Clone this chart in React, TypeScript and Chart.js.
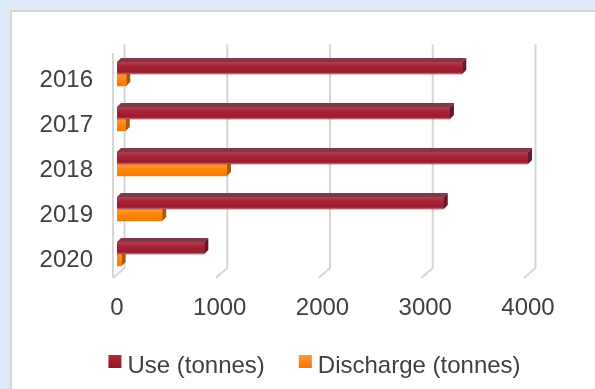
import { useEffect, useRef } from "react";
import { Chart, registerables } from "chart.js";

Chart.register(...registerables);

const categories = ["2016", "2017", "2018", "2019", "2020"];
const useTonnes = [3360, 3240, 4000, 3180, 850];
const dischargeTonnes = [90, 85, 1070, 440, 45];
const xTickValues = [0, 1000, 2000, 3000, 4000];
const seriesLabels = ["Use (tonnes)", "Discharge (tonnes)"];

const FONT_FAMILY = "'Liberation Sans', Arial, sans-serif";
const TEXT_COLOR = "#404040";
const DEPTH = 4;

const faceStyles = [
  {
    top: "#7f3a48",
    side: "#66182a",
    stops: [
      [0, "#b3404f"],
      [0.35, "#a82438"],
      [0.85, "#9b1a2d"],
      [1, "#c4707c"],
    ],
    legend: ["#b02a3d", "#8f1727"],
  },
  {
    top: "#e07a10",
    side: "#b05800",
    stops: [
      [0, "#ff9d3a"],
      [0.4, "#ff8710"],
      [1, "#f47a00"],
    ],
    legend: ["#ff9a35", "#f07400"],
  },
];

const gridPlugin = {
  id: "grid3d",
  beforeDatasetsDraw(chart: any) {
    const { ctx, chartArea } = chart;
    const xs = chart.scales.x;
    const { top, bottom, left } = chartArea;
    ctx.save();
    ctx.strokeStyle = "#d6d6d6";
    ctx.lineWidth = 2;
    xs.ticks.forEach((t: any) => {
      const px = xs.getPixelForValue(t.value);
      ctx.beginPath();
      ctx.moveTo(px + 7.5, top - 7);
      ctx.lineTo(px + 7.5, bottom - 8.5);
      ctx.lineTo(px - 4, bottom + 1.5);
      ctx.stroke();
    });
    ctx.beginPath();
    ctx.moveTo(left - 4, top + 1.5);
    ctx.lineTo(left - 4, bottom + 1.5);
    ctx.stroke();
    ctx.restore();
  },
};

const bar3dPlugin = {
  id: "bar3d",
  afterDatasetDraw(chart: any, args: any) {
    const ctx = chart.ctx;
    const style = faceStyles[args.index];
    if (!style) return;
    ctx.save();
    args.meta.data.forEach((el: any) => {
      const { x, y, base, height } = el.getProps(["x", "y", "base", "height"], true);
      const x0 = Math.min(base, x);
      const x1 = Math.max(base, x);
      const yT = y - height / 2;
      const yB = y + height / 2;
      const D = DEPTH;
      ctx.fillStyle = style.top;
      ctx.beginPath();
      ctx.moveTo(x0, yT);
      ctx.lineTo(x0 + D, yT - D);
      ctx.lineTo(x1 + D, yT - D);
      ctx.lineTo(x1, yT);
      ctx.closePath();
      ctx.fill();
      ctx.fillStyle = style.side;
      ctx.beginPath();
      ctx.moveTo(x1, yT);
      ctx.lineTo(x1 + D, yT - D);
      ctx.lineTo(x1 + D, yB - D);
      ctx.lineTo(x1, yB);
      ctx.closePath();
      ctx.fill();
      const g = ctx.createLinearGradient(0, yT, 0, yB);
      style.stops.forEach(([o, c]: any) => g.addColorStop(o, c));
      ctx.fillStyle = g;
      ctx.fillRect(x0, yT, x1 - x0, yB - yT);
    });
    ctx.restore();
  },
};

const legendPlugin = {
  id: "customLegend",
  afterDraw(chart: any) {
    const ctx = chart.ctx;
    ctx.save();
    ctx.font = `24px ${FONT_FAMILY}`;
    const box = 13;
    const gap = 6;
    const spacing = 34;
    const widths = chart.data.datasets.map((d: any) => ctx.measureText(d.label).width);
    const total =
      widths.reduce((a: number, w: number) => a + box + gap + w, 0) + spacing * (widths.length - 1);
    let x = 314.5 - total / 2;
    const baseline = 373;
    chart.data.datasets.forEach((d: any, i: number) => {
      const st = faceStyles[i];
      const g = ctx.createLinearGradient(0, 355, 0, 368);
      g.addColorStop(0, st.legend[0]);
      g.addColorStop(1, st.legend[1]);
      ctx.fillStyle = g;
      ctx.fillRect(x, 355, box, box);
      ctx.fillStyle = TEXT_COLOR;
      ctx.textBaseline = "alphabetic";
      ctx.textAlign = "left";
      ctx.fillText(d.label, x + box + gap, baseline);
      x += box + gap + widths[i] + spacing;
    });
    ctx.restore();
  },
};

export default function App() {
  const canvasRef = useRef<HTMLCanvasElement | null>(null);

  useEffect(() => {
    if (!canvasRef.current) return;
    const chart = new Chart(canvasRef.current, {
      type: "bar",
      data: {
        labels: categories,
        datasets: [
          {
            label: seriesLabels[0],
            data: useTonnes,
            backgroundColor: "#a01d30",
            borderWidth: 0,
            barThickness: 12,
          },
          {
            label: seriesLabels[1],
            data: dischargeTonnes,
            backgroundColor: "#ff8000",
            borderWidth: 0,
            barThickness: 12,
          },
        ],
      },
      options: {
        indexAxis: "y",
        responsive: false,
        animation: false,
        devicePixelRatio: 1,
        layout: { padding: { left: 0, right: 67, top: 51.5, bottom: 389 - 276.5 - 60 } },
        plugins: {
          legend: { display: false },
          tooltip: { enabled: false },
        },
        scales: {
          x: {
            min: 0,
            max: 4000,
            position: "bottom",
            grid: { display: false, drawTicks: false },
            border: { display: false },
            ticks: {
              font: { family: FONT_FAMILY, size: 24 },
              color: TEXT_COLOR,
              padding: 17,
              maxRotation: 0,
              autoSkip: false,
              callback: (v: any) => String(v),
            },
            afterBuildTicks: (s: any) => {
              s.ticks = xTickValues.map((v) => ({ value: v }));
            },
            afterFit: (s: any) => {
              s.height = 60;
            },
          },
          y: {
            grid: { display: false, drawTicks: false },
            border: { display: false },
            ticks: {
              font: { family: FONT_FAMILY, size: 24 },
              color: TEXT_COLOR,
              padding: 24,
              labelOffset: 6,
            },
            afterFit: (s: any) => {
              s.width = 117;
            },
          },
        },
      } as any,
      plugins: [gridPlugin, bar3dPlugin, legendPlugin],
    });
    return () => chart.destroy();
  }, []);

  return (
    <div
      style={{
        position: "fixed",
        left: 0,
        top: 0,
        width: 595,
        height: 389,
        background: "#dcebf7",
        overflow: "hidden",
      }}
    >
      <div
        style={{
          position: "absolute",
          left: 10,
          top: 10,
          width: 620,
          height: 420,
          background: "#ffffff",
          borderLeft: "2px solid #d6d6d6",
          borderTop: "2px solid #d6d6d6",
          boxSizing: "border-box",
        }}
      />
      <canvas
        ref={canvasRef}
        width={595}
        height={389}
        style={{ position: "absolute", left: 0, top: 0, width: 595, height: 389 }}
      />
    </div>
  );
}
